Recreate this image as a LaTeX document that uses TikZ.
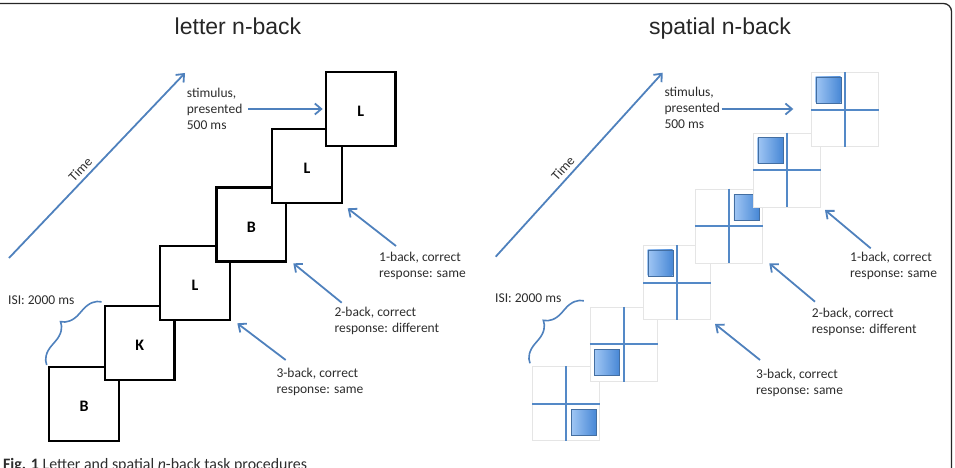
\documentclass[tikz,border=0pt]{standalone}
\usepackage{fontspec}
\setmainfont{Carlito}
\newfontfamily\titlefont{Liberation Sans}
\usetikzlibrary{arrows.meta,decorations.pathreplacing,calc}
\definecolor{arrblue}{RGB}{79,129,189}
\definecolor{gridblue}{RGB}{84,137,199}
\definecolor{sqlight}{RGB}{160,198,244}
\definecolor{sqdark}{RGB}{72,136,214}
\definecolor{txt}{RGB}{45,45,45}
\begin{document}
\begin{tikzpicture}[x=1pt,y=-1pt,
  arr/.style={draw=arrblue,line width=1.8pt,-{Straight Barb[length=6.5pt,width=11pt]}},
  lab/.style={anchor=base west,inner sep=0pt,text=txt,font=\fontsize{13.5}{16}\selectfont},
  ttl/.style={anchor=base,inner sep=0pt,text=black!85,font=\titlefont\fontsize{23}{27}\selectfont},
  lsq/.style={draw=black,line width=2.3pt,fill=white,minimum width=69.5pt,minimum height=74pt,inner sep=0pt},
  letter/.style={inner sep=0pt,font=\bfseries\fontsize{16}{18}\selectfont},
  gsq/.style={draw=black!10,line width=0.8pt,fill=white,minimum width=67pt,minimum height=74pt,inner sep=0pt},
  cross/.style={draw=gridblue,line width=1.8pt},
  bsq/.style={minimum width=25pt,minimum height=26pt,inner sep=0pt,draw=arrblue!85!black,line width=0.4pt,left color=sqlight,right color=sqdark,anchor=north west},
  brc/.style={draw=arrblue,line width=1.6pt,decorate,decoration={brace,amplitude=18pt}},
  tlab/.style={pos=0.444,sloped,above=4pt,inner sep=0pt,text=txt,font=\fontsize{13.5}{16}\selectfont}
]
\useasboundingbox (0,0) rectangle (955,468);
% frame
\draw[line width=1.3pt,black!85,rounded corners=8pt] (-5,3.5) -- (951.5,3.5) -- (951.5,480);

% titles
\node[ttl] (t1) at (238,34.3) {letter n-back};
\node[ttl] (t2) at (720,34.3) {spatial n-back};

% ---------------- letter n-back ----------------
\node[lsq] (sqA) at (84,403.85) {};
\node[letter] (lA) at ([yshift=-2.5pt]sqA.center) {B};
\node[lsq] (sqB) at (139.65,343) {};
\node[letter] (lB) at ([yshift=-2.5pt]sqB.center) {K};
\node[lsq] (sqC) at (195,283) {};
\node[letter] (lC) at ([yshift=-2.5pt]sqC.center) {L};
\node[lsq] (sqD) at (251.35,224.5) {};
\node[letter] (lD) at ([yshift=-2.5pt]sqD.center) {B};
\node[lsq] (sqE) at (307,165.85) {};
\node[letter] (lE) at ([yshift=-2.5pt]sqE.center) {L};
\node[lsq] (sqF) at (360.7,108.85) {};
\node[letter] (lF) at ([yshift=-2.5pt]sqF.center) {L};

\node[lab] (stim1) at (186.7,97.7) {\vtop{\hbox{stimulus,}\hbox{presented}\hbox{500 ms}}};
\node[lab] (one1) at (379,261.5) {\vtop{\hbox{1-back, correct}\hbox{response: same}}};
\node[lab] (two1) at (334.3,316.7) {\vtop{\hbox{2-back, correct}\hbox{response: different}}};
\node[lab] (three1) at (276.3,377.7) {\vtop{\hbox{3-back, correct}\hbox{response: same}}};
\node[lab] (isi1) at (8,304) {ISI: 2000 ms};

\coordinate (a1s) at (248,109);   \coordinate (a1e) at (322.7,109);
\coordinate (b1s) at (396,246);   \coordinate (b1e) at (347.7,208.3);
\coordinate (c1s) at (341.7,302.7); \coordinate (c1e) at (293.3,263.3);
\coordinate (d1s) at (285.7,360); \coordinate (d1e) at (237.3,323.3);
\coordinate (ts1) at (9,258);     \coordinate (te1) at (185,73);
\coordinate (bs1) at (46.7,365);  \coordinate (be1) at (101.7,301.7);
\draw[arr] (a1s) -- (a1e);
\draw[arr] (b1s) -- (b1e);
\draw[arr] (c1s) -- (c1e);
\draw[arr] (d1s) -- (d1e);
\draw[arr] (ts1) -- node[tlab] (time1) {Time} (te1);
\draw[brc] (bs1) -- (be1);

% ---------------- spatial n-back ----------------
\node[gsq] (g6) at (566.3,403.7) {};
\draw[cross] (g6.north) -- (g6.south) (g6.west) -- (g6.east);
\node[bsq] (q6) at ($(g6.center)+(4.5,5.5)$) {};
\node[gsq] (g5) at (623.7,344.3) {};
\draw[cross] (g5.north) -- (g5.south) (g5.west) -- (g5.east);
\node[bsq] (q5) at ($(g5.center)+(-29.5,4.5)$) {};
\node[gsq] (g4) at (677,282.7) {};
\draw[cross] (g4.north) -- (g4.south) (g4.west) -- (g4.east);
\node[bsq] (q4) at ($(g4.center)+(-29.5,-33)$) {};
\node[gsq] (g3) at (728.7,226) {};
\draw[cross] (g3.north) -- (g3.south) (g3.west) -- (g3.east);
\node[bsq] (q3) at ($(g3.center)+(5,-32)$) {};
\node[gsq] (g2) at (787,170) {};
\draw[cross] (g2.north) -- (g2.south) (g2.west) -- (g2.east);
\node[bsq] (q2) at ($(g2.center)+(-29.5,-33)$) {};
\node[gsq] (g1) at (845,109.7) {};
\draw[cross] (g1.north) -- (g1.south) (g1.west) -- (g1.east);
\node[bsq] (q1) at ($(g1.center)+(-29.5,-33)$) {};

\node[lab] (stim2) at (664.3,96.7) {\vtop{\hbox{stimulus,}\hbox{presented}\hbox{500 ms}}};
\node[lab] (one2) at (850,261.7) {\vtop{\hbox{1-back, correct}\hbox{response: same}}};
\node[lab] (two2) at (811.7,317.3) {\vtop{\hbox{2-back, correct}\hbox{response: different}}};
\node[lab] (three2) at (756,378.3) {\vtop{\hbox{3-back, correct}\hbox{response: same}}};
\node[lab] (isi2) at (495,302.7) {ISI: 2000 ms};

\coordinate (a2s) at (721.7,109);   \coordinate (a2e) at (793.3,109);
\coordinate (b2s) at (870.7,248.3); \coordinate (b2e) at (825,210);
\coordinate (c2s) at (815,301.7);   \coordinate (c2e) at (769.3,263.3);
\coordinate (d2s) at (760,360);     \coordinate (d2e) at (715,324);
\coordinate (ts2) at (495.7,256.7); \coordinate (te2) at (662.7,72.7);
\coordinate (bs2) at (530,363.3);   \coordinate (be2) at (584,300.7);
\draw[arr] (a2s) -- (a2e);
\draw[arr] (b2s) -- (b2e);
\draw[arr] (c2s) -- (c2e);
\draw[arr] (d2s) -- (d2e);
\draw[arr] (ts2) -- node[tlab] (time2) {Time} (te2);
\draw[brc] (bs2) -- (be2);

% caption
\node[anchor=base west,inner sep=0pt,text=txt,font=\fontsize{15.9}{18}\selectfont] (cap) at (3,469.5) {\textbf{Fig. 1} Letter and spatial \textit{n}-back task procedures};
\end{tikzpicture}
\end{document}
